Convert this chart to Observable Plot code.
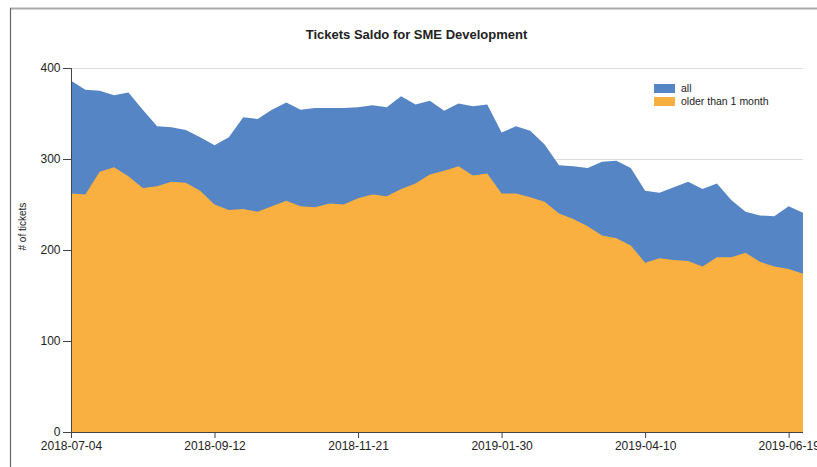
<!DOCTYPE html>
<html>
<head>
<meta charset="utf-8">
<script src="https://cdn.jsdelivr.net/npm/d3@7"></script>
<script src="https://cdn.jsdelivr.net/npm/@observablehq/plot@0.6"></script>
<style>
  html, body { margin: 0; padding: 0; background: #fff; }
  svg { display: block; }
</style>
</head>
<body>
<div id="chart"></div>
<script>
const title = "Tickets Saldo for SME Development";
const yLabel = "# of tickets";
const seriesNames = ["all", "older than 1 month"];
const seriesColors = ["#5585c5", "#fab041"];

const dates = [
  "2018-07-04","2018-07-11","2018-07-18","2018-07-25","2018-08-01","2018-08-08","2018-08-15","2018-08-22","2018-08-29","2018-09-05",
  "2018-09-12","2018-09-19","2018-09-26","2018-10-03","2018-10-10","2018-10-17","2018-10-24","2018-10-31","2018-11-07","2018-11-14",
  "2018-11-21","2018-11-28","2018-12-05","2018-12-12","2018-12-19","2018-12-26","2019-01-02","2019-01-09","2019-01-16","2019-01-23",
  "2019-01-30","2019-02-06","2019-02-13","2019-02-20","2019-02-27","2019-03-06","2019-03-13","2019-03-20","2019-03-27","2019-04-03",
  "2019-04-10","2019-04-17","2019-04-24","2019-05-01","2019-05-08","2019-05-15","2019-05-22","2019-05-29","2019-06-05","2019-06-12",
  "2019-06-19","2019-06-26"
];

const allTickets = [
  386,376,375,370,373,354,336,335,332,324,
  315,324,346,344,354,362,354,356,356,356,
  357,359,357,369,360,364,353,361,358,360,
  329,336,331,316,293,292,290,297,298,290,
  265,263,269,275,267,273,255,242,238,237,
  248,241
];

const olderTickets = [
  262,261,286,291,281,268,270,275,274,265,
  250,244,245,242,248,254,248,247,251,250,
  257,261,259,267,273,283,287,292,282,284,
  262,262,258,253,240,234,226,216,213,205,
  186,191,189,188,182,192,192,197,187,182,
  179,174
];

const xTickLabels = ["2018-07-04","2018-09-12","2018-11-21","2019-01-30","2019-04-10","2019-06-19"];
const yTicks = [0, 100, 200, 300, 400];

const parse = d3.utcParse("%Y-%m-%d");
const data = dates.map((d, i) => ({date: parse(d), all: allTickets[i], older: olderTickets[i]}));
const xTicks = xTickLabels.map(parse);
const fmt = d3.utcFormat("%Y-%m-%d");
const FONT = "'Liberation Sans', Arial, sans-serif";

function decor(index, scales, values, dim) {
  const g = d3.create("svg:g");
  // outer border (top and left)
  g.append("line").attr("x1", 10).attr("x2", dim.width).attr("y1", 8.5).attr("y2", 8.5)
    .attr("stroke", "#aaaaaa").attr("stroke-width", 2);
  g.append("line").attr("x1", 10.5).attr("x2", 10.5).attr("y1", 8).attr("y2", dim.height)
    .attr("stroke", "#666666").attr("stroke-width", 1.2);
  // legend
  const lx = 654, ly = 84;
  seriesNames.forEach((name, i) => {
    g.append("rect").attr("x", lx).attr("y", ly + i * 13).attr("width", 21).attr("height", 9)
      .attr("fill", seriesColors[i]);
    g.append("text").attr("x", lx + 27).attr("y", ly + i * 13 + 4.5).attr("dy", "0.35em")
      .attr("text-anchor", "start")
      .attr("font-family", FONT).attr("font-size", 10.5).attr("fill", "#222")
      .text(name);
  });
  return g.node();
}

const chart = Plot.plot({
  width: 817,
  height: 467,
  marginLeft: 71,
  marginRight: 14,
  marginTop: 68,
  marginBottom: 35,
  style: {fontFamily: FONT, background: "#fff"},
  x: {type: "utc", domain: [data[0].date, data[data.length - 1].date]},
  y: {domain: [0, 400]},
  marks: [
    Plot.gridY(yTicks.slice(1), {stroke: "#dddddd", strokeOpacity: 1}),
    Plot.areaY(data, {x: "date", y: "all", fill: seriesColors[0]}),
    Plot.areaY(data, {x: "date", y: "older", fill: seriesColors[1]}),
    Plot.ruleY([0], {stroke: "#444"}),
    Plot.ruleX([data[0].date], {stroke: "#444"}),
    Plot.axisY(yTicks, {tickSize: 8, tickPadding: 3, fontSize: 12, stroke: "#444", fill: "#222", label: null}),
    Plot.axisX(xTicks, {tickSize: 6, tickPadding: 3, fontSize: 12, stroke: "#444", fill: "#222", tickFormat: fmt, label: null}),
    Plot.text([yLabel], {frameAnchor: "left", dx: -49, rotate: -90, fontSize: 10, fill: "#222"}),
    Plot.text([title], {frameAnchor: "top", lineAnchor: "middle", dx: -21, dy: -34, fontSize: 13, fontWeight: "bold", fill: "#222"}),
    decor
  ]
});

document.getElementById("chart").appendChild(chart);
</script>
</body>
</html>
